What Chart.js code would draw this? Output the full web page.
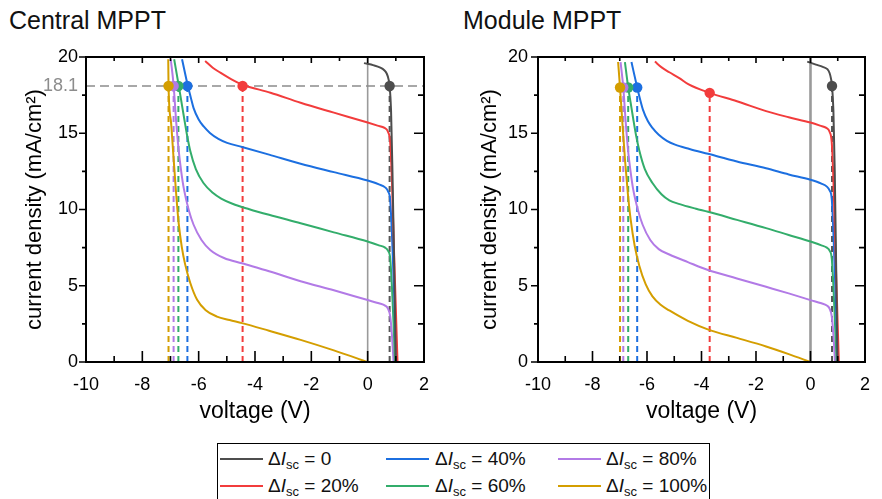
<!DOCTYPE html>
<html>
<head>
<meta charset="utf-8">
<script src="https://cdn.jsdelivr.net/npm/chart.js@4"></script>
<style>
body{margin:0;background:#fff;font-family:"Liberation Sans",Arial,sans-serif;}
#wrap{position:relative;width:882px;height:499px;overflow:hidden;background:#fff;}
.panel{position:absolute;top:0;}
.title{position:absolute;top:6px;font-size:25px;color:#111;white-space:nowrap;}
#legend{position:absolute;left:217px;top:443px;width:491px;height:70px;border:1.5px solid #000;}
.ln{position:absolute;height:2px;width:43px;}
.lb{position:absolute;font-size:19px;line-height:20px;color:#111;white-space:nowrap;}
.lb sub{font-size:13px;vertical-align:-4px;line-height:0;}
</style>
</head>
<body>
<div id="wrap">
  <div class="title" style="left:9px">Central MPPT</div>
  <div class="title" style="left:463px">Module MPPT</div>
  <canvas id="chart1" class="panel" style="left:0" width="441" height="430"></canvas>
  <canvas id="chart2" class="panel" style="left:441px" width="441" height="430"></canvas>
  <div id="legend"></div>
</div>
<script>
const labels = ["0", "20%", "40%", "60%", "80%", "100%"];
const colors = ["#4d4d4d", "#f23c3c", "#1c6fe0", "#33ad6b", "#b27ae6", "#d49e00"];
const xTicks = [-10, -8, -6, -4, -2, 0, 2];
const yTicks = [0, 5, 10, 15, 20];
const refJ = 18.1;

// Central MPPT
const cV0 = [-0.13, 0.22, 0.45, 0.58, 0.68, 0.74, 0.78, 0.83, 0.88, 0.94, 1.0];
const cJ0 = [19.6, 19.45, 19.3, 19.15, 18.9, 18.55, 18.1, 16.5, 12.5, 6.5, 0];
const cV20 = [-5.77, -5.5, -5.23, -4.85, -4.46, -3.45, -2.38, -1.2, 0, 0.35, 0.6, 0.72, 0.8, 0.86, 0.94, 1.0, 1.06];
const cJ20 = [19.74, 19.3, 18.97, 18.55, 18.2, 17.66, 17.0, 16.35, 15.7, 15.5, 15.35, 15.1, 14.4, 12.0, 7.0, 3.5, 0];
const cV40 = [-6.59, -6.39, -6.28, -6.18, -6.0, -5.83, -5.6, -5.3, -4.99, -4.46, -3.5, -2.38, -1.2, 0, 0.4, 0.62, 0.72, 0.8, 0.86, 0.94, 1.02];
const cJ40 = [19.85, 18.15, 17.35, 16.65, 15.9, 15.46, 15.02, 14.63, 14.37, 14.1, 13.6, 13.0, 12.45, 11.9, 11.65, 11.45, 11.2, 10.6, 8.5, 4.5, 0];
const cV60 = [-6.87, -6.71, -6.62, -6.53, -6.42, -6.3, -6.1, -5.83, -5.5, -5.2, -4.8, -4.2, -3.5, -2.38, -1.2, 0, 0.4, 0.62, 0.72, 0.8, 0.86, 0.92, 0.97];
const cJ60 = [19.85, 18.15, 17.15, 16.15, 14.95, 13.85, 12.65, 11.74, 11.1, 10.72, 10.38, 10.02, 9.65, 9.1, 8.5, 7.9, 7.65, 7.5, 7.3, 6.8, 5.0, 2.5, 0];
const cV80 = [-6.99, -6.89, -6.8, -6.71, -6.62, -6.53, -6.35, -6.18, -5.9, -5.59, -5.1, -4.46, -3.5, -2.38, -1.2, 0, 0.4, 0.62, 0.72, 0.8, 0.86, 0.92];
const cJ80 = [19.85, 18.15, 15.8, 13.9, 12.5, 11.4, 9.95, 9.0, 8.0, 7.35, 6.82, 6.47, 5.95, 5.3, 4.7, 4.06, 3.85, 3.7, 3.5, 3.0, 1.8, 0];
const cV100 = [-7.08, -7.07, -6.98, -6.89, -6.8, -6.71, -6.6, -6.48, -6.3, -6.06, -5.75, -5.35, -4.9, -4.46, -3.5, -2.38, -1.2, 0];
const cJ100 = [19.85, 18.15, 15.7, 13.35, 11.05, 9.1, 7.55, 6.4, 5.2, 4.1, 3.4, 2.98, 2.75, 2.55, 2.05, 1.45, 0.76, 0];
const cMppV = [0.78, -4.44, -6.4, -6.72, -6.89, -7.07];
const cMppJ = [18.1, 18.1, 18.1, 18.1, 18.1, 18.1];

// Module MPPT
const mV0 = [-0.12, 0.2, 0.45, 0.62, 0.7, 0.75, 0.79, 0.84, 0.89, 0.94, 0.99];
const mJ0 = [19.7, 19.5, 19.35, 19.2, 18.95, 18.6, 18.1, 16.5, 12.5, 6.5, 0];
const mV20 = [-5.71, -5.45, -5.18, -4.8, -4.47, -3.7, -2.7, -1.63, -0.8, 0, 0.35, 0.58, 0.7, 0.78, 0.84, 0.92, 0.98, 1.04];
const mJ20 = [19.7, 19.3, 19.0, 18.6, 18.2, 17.65, 17.1, 16.45, 16.05, 15.7, 15.5, 15.35, 15.1, 14.4, 12.0, 7.0, 3.5, 0];
const mV40 = [-6.57, -6.36, -6.25, -6.15, -5.97, -5.8, -5.57, -5.27, -4.97, -4.44, -3.76, -2.7, -1.63, -0.8, 0, 0.4, 0.6, 0.7, 0.78, 0.84, 0.92, 1.0];
const mJ40 = [19.67, 18.0, 17.2, 16.55, 15.8, 15.35, 14.9, 14.5, 14.25, 13.97, 13.65, 13.15, 12.7, 12.3, 11.95, 11.7, 11.5, 11.25, 10.7, 8.5, 4.5, 0];
const mV60 = [-6.81, -6.69, -6.6, -6.51, -6.4, -6.28, -6.08, -5.8, -5.47, -5.18, -4.8, -4.2, -3.76, -2.7, -1.63, -0.8, 0, 0.4, 0.6, 0.7, 0.78, 0.84, 0.9, 0.96];
const mJ60 = [19.67, 18.0, 17.0, 16.0, 14.85, 13.85, 12.65, 11.74, 11.0, 10.6, 10.35, 10.05, 9.85, 9.32, 8.78, 8.33, 7.9, 7.65, 7.5, 7.3, 6.8, 5.0, 2.5, 0];
const mV80 = [-6.97, -6.87, -6.78, -6.69, -6.6, -6.51, -6.33, -6.16, -5.88, -5.57, -5.18, -4.5, -3.76, -2.7, -1.63, -0.8, 0, 0.4, 0.6, 0.7, 0.78, 0.84, 0.9];
const mJ80 = [19.67, 18.0, 15.7, 13.8, 12.45, 11.35, 9.95, 9.0, 8.0, 7.4, 7.05, 6.55, 6.03, 5.48, 4.93, 4.5, 4.06, 3.85, 3.7, 3.5, 3.0, 1.8, 0];
const mV100 = [-7.06, -6.99, -6.9, -6.8, -6.7, -6.6, -6.45, -6.28, -6.05, -5.8, -5.5, -5.18, -4.5, -3.7, -2.7, -1.63, -0.8, 0];
const mJ100 = [19.67, 18.0, 15.6, 13.1, 11.0, 9.35, 7.6, 6.3, 5.1, 4.3, 3.75, 3.38, 2.7, 2.09, 1.58, 1.02, 0.52, 0];
const mMppV = [0.79, -3.7, -6.36, -6.69, -6.87, -6.99];
const mMppJ = [18.1, 17.65, 18.0, 18.0, 18.0, 18.0];

const xMin = -10, xMax = 2, yMin = 0, yMax = 20;

Chart.defaults.font.family = '"Liberation Sans", Arial, sans-serif';
Chart.defaults.color = "#000";

function pts(vs, js){
  return vs.map((v, i) => ({x: v, y: js[i]}));
}

// frame + ticks like the original plot (inward on bottom/top/right, outward on left)
const frameTicks = {
  id: "frameTicks",
  afterDatasetsDraw(chart){
    const {ctx, chartArea: a, scales: {x, y}} = chart;
    ctx.save();
    ctx.strokeStyle = "#000";
    ctx.lineWidth = 2;
    ctx.strokeRect(a.left, a.top, a.right - a.left, a.bottom - a.top);
    ctx.lineWidth = 1.6;
    ctx.beginPath();
    for(let v = xMin; v <= xMax; v += 1){
      let px = x.getPixelForValue(v);
      let major = v % 2 === 0;
      ctx.moveTo(px, a.bottom); ctx.lineTo(px, a.bottom - (major ? 11 : 6));
      ctx.moveTo(px, a.top); ctx.lineTo(px, a.top + (major ? 6 : 4));
    }
    for(let v = yMin; v <= yMax; v += 2.5){
      let py = y.getPixelForValue(v);
      let major = v % 5 === 0;
      ctx.moveTo(a.left, py); ctx.lineTo(a.left - (major ? 7 : 4), py);
      ctx.moveTo(a.right, py); ctx.lineTo(a.right - (major ? 10 : 6), py);
    }
    ctx.stroke();
    ctx.restore();
  }
};

function makeChart(id, allV, allJ, mppV, mppJ, opt){
  let ds = [];
  // dots
  ds.push({
    data: pts(mppV, mppJ), pointRadius: 5.2, pointBackgroundColor: colors,
    pointBorderWidth: 0, showLine: false, order: 0
  });
  allV.forEach((vs, i) => {
    ds.push({
      data: pts(vs, allJ[i]), showLine: true, borderColor: colors[i], borderWidth: 2,
      pointRadius: 0, cubicInterpolationMode: "monotone", order: 1
    });
    ds.push({
      data: pts([mppV[i], mppV[i]], [yMin, mppJ[i]]), showLine: true,
      borderColor: i == 0 ? "#555" : colors[i], borderWidth: 2, borderDash: [6, 4],
      pointRadius: 0, order: 2
    });
  });
  if(opt.showRef){
    ds.push({
      data: pts([xMin, xMax], [refJ, refJ]), showLine: true, borderColor: "#8c8c8c",
      borderWidth: 1.6, borderDash: [9, 5], pointRadius: 0, order: 3
    });
  }
  ds.push({
    data: pts([0, 0], [yMin, yMax]), showLine: true, borderColor: "#9a9a9a",
    borderWidth: opt.zeroWidth, pointRadius: 0, order: 4
  });

  let yVals = opt.showRef ? yTicks.concat([refJ]) : yTicks;

  return new Chart(document.getElementById(id), {
    type: "scatter",
    data: {datasets: ds},
    options: {
      responsive: false,
      animation: false,
      layout: {padding: {top: 57, right: opt.padRight, left: 0, bottom: 0}},
      plugins: {legend: {display: false}, tooltip: {enabled: false}},
      scales: {
        x: {
          type: "linear", min: xMin, max: xMax,
          grid: {display: false, drawTicks: false}, border: {display: false},
          afterBuildTicks: s => { s.ticks = xTicks.map(v => ({value: v})); },
          afterFit: s => { s.height = 68; },
          ticks: {font: {size: 18}, color: "#000", padding: 12, maxRotation: 0, autoSkip: false, callback: v => String(v)},
          title: {display: true, text: "voltage (V)", font: {size: 23}, color: "#000", padding: {top: 0, bottom: 5}}
        },
        y: {
          type: "linear", min: yMin, max: yMax,
          grid: {display: false, drawTicks: false}, border: {display: false},
          afterBuildTicks: s => { s.ticks = yVals.map(v => ({value: v})); },
          afterFit: s => { s.width = opt.yWidth; },
          ticks: {
            font: {size: 18}, padding: opt.yPad, autoSkip: false, callback: v => String(v),
            color: c => c.tick && c.tick.value === refJ ? "#8c8c8c" : "#000"
          },
          title: {display: true, text: "current density (mA/cm²)", font: {size: 22}, color: "#000", padding: {top: opt.yTitlePad, bottom: 0}}
        }
      }
    },
    plugins: [frameTicks]
  });
}

function makeLegend(){
  let box = document.getElementById("legend");
  let colLine = [2, 168, 340];
  let colText = [50, 217, 388];
  let rowY = [15, 42];
  labels.forEach((lab, i) => {
    let c = Math.floor(i / 2), r = i % 2;
    let ln = document.createElement("div");
    ln.className = "ln";
    ln.style.left = colLine[c] + "px";
    ln.style.top = (rowY[r] - 1) + "px";
    ln.style.background = colors[i];
    box.appendChild(ln);
    let tx = document.createElement("div");
    tx.className = "lb";
    tx.style.left = colText[c] + "px";
    tx.style.top = (rowY[r] - 10) + "px";
    tx.innerHTML = "Δ<i>I</i><sub>sc</sub> = " + lab;
    box.appendChild(tx);
  });
}

makeChart("chart1",
  [cV0, cV20, cV40, cV60, cV80, cV100], [cJ0, cJ20, cJ40, cJ60, cJ80, cJ100],
  cMppV, cMppJ, {showRef: true, zeroWidth: 1.6, padRight: 17, yWidth: 86, yPad: 8, yTitlePad: 22});
makeChart("chart2",
  [mV0, mV20, mV40, mV60, mV80, mV100], [mJ0, mJ20, mJ40, mJ60, mJ80, mJ100],
  mMppV, mMppJ, {showRef: false, zeroWidth: 2.6, padRight: 5, yWidth: 97, yPad: 10, yTitlePad: 36});
makeLegend();
</script>
</body>
</html>
